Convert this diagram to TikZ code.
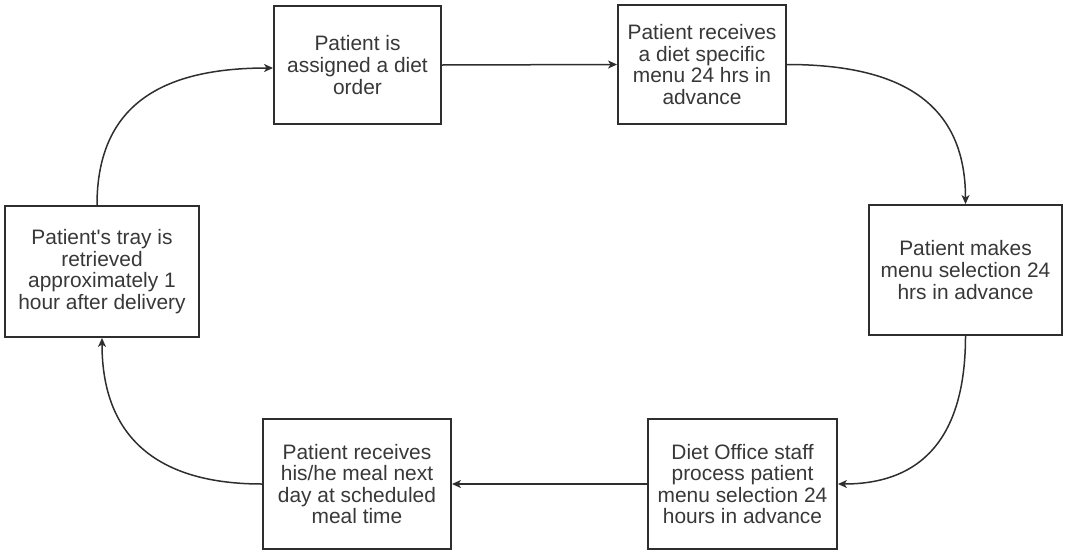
\documentclass[tikz,border=0pt]{standalone}
\usepackage{fontspec}
\setmainfont{Liberation Sans}
\usetikzlibrary{arrows.meta}
\definecolor{ink}{HTML}{2E2E2E}
\definecolor{txt}{HTML}{383838}
\begin{document}
\begin{tikzpicture}[x=1pt,y=1pt,
  stepbox/.style={draw=ink, line width=1.9pt, fill=white, inner sep=0pt, align=center,
    text=txt, font=\fontsize{20.9pt}{21.6pt}\selectfont},
  flow/.style={draw=ink, line width=1.5pt, -{Stealth[length=9pt,width=8pt,inset=2.5pt]}}]
\useasboundingbox (0,0) rectangle (1067,-552);
\node[stepbox, minimum width=167pt, minimum height=118pt] (a) at (357.5,-65)
  {Patient is\\assigned a diet\\order};
\node[stepbox, minimum width=168pt, minimum height=119pt] (b) at (702,-64.5)
  {Patient receives\\a diet specific\\menu 24 hrs in\\advance};
\node[stepbox, minimum width=193pt, minimum height=130pt] (c) at (965.5,-270)
  {Patient makes\\menu selection 24\\hrs in advance};
\node[stepbox, minimum width=189pt, minimum height=130pt] (d) at (742.5,-484)
  {Diet Office staff\\process patient\\menu selection 24\\hours in advance};
\node[stepbox, minimum width=188pt, minimum height=130pt] (e) at (357,-484)
  {Patient receives\\his/he meal next\\day at scheduled\\meal time};
\node[stepbox, minimum width=194pt, minimum height=131pt] (f) at (102,-271.5)
  {Patient\textquotesingle s tray is\\retrieved\\approximately 1\\hour after delivery};
\draw[flow] (a.east) -- (b.west);
\draw[flow] (b.east) to[out=0,in=90,looseness=1.2] (c.north);
\draw[flow] (c.south) to[out=-90,in=0,looseness=1.2] (d.east);
\draw[flow] (d.west) -- (e.east);
\draw[flow] (e.west) to[out=180,in=-90,looseness=1.2] (f.south);
\draw[flow] ([xshift=-5pt]f.north) to[out=90,in=180,looseness=1.2] ([yshift=-3pt]a.west);
\end{tikzpicture}
\end{document}
